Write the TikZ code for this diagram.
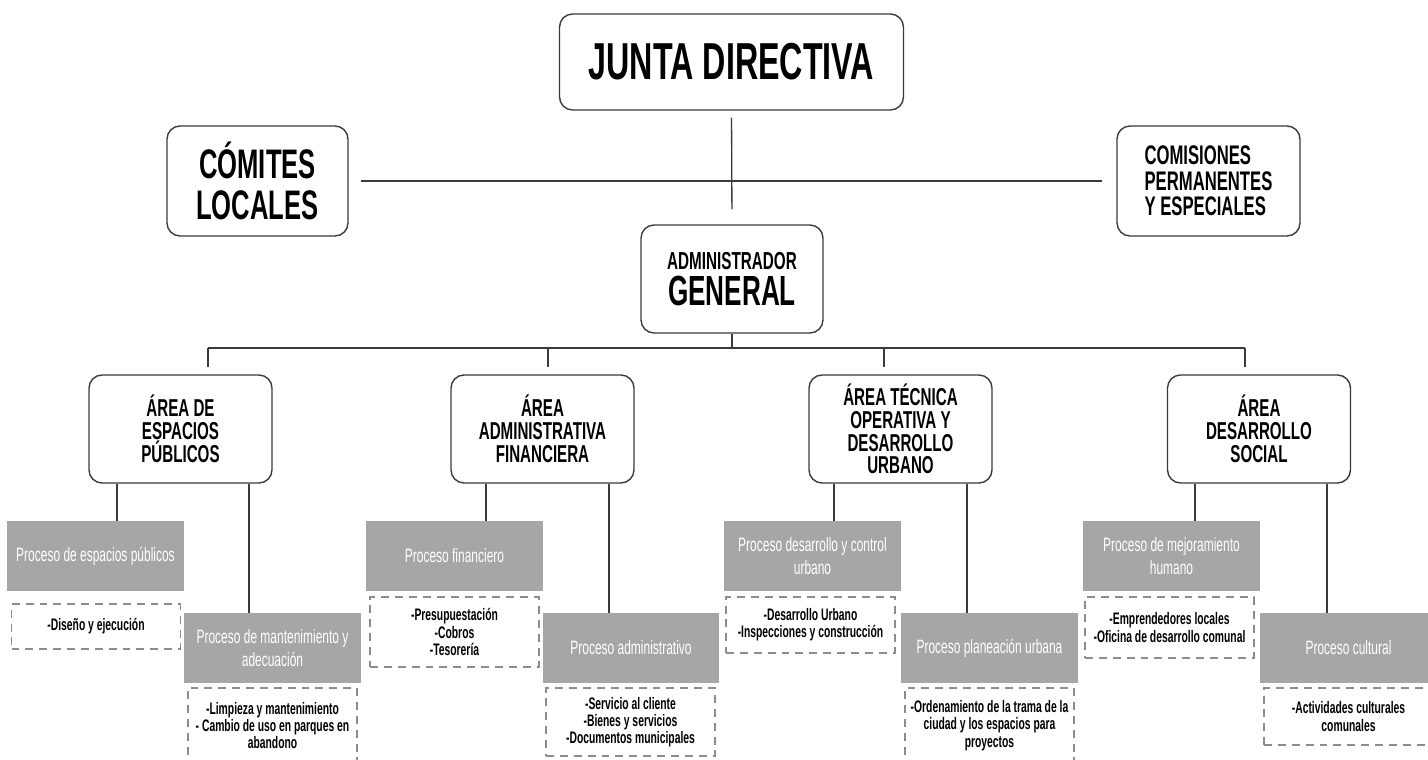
\documentclass[tikz,border=0pt]{standalone}
\usepackage{fontspec}
\setmainfont{Liberation Sans}
\newfontfamily\condfont[FakeStretch=0.62]{Liberation Sans}
\definecolor{boxline}{HTML}{3A3A3A}
\definecolor{procgray}{HTML}{A6A6A6}
\definecolor{dashgray}{HTML}{8C8C8C}
\begin{document}
\begin{tikzpicture}[
  x=0.02cm, y=-0.02cm,
  head/.style={draw=boxline, line width=0.8pt, rounded corners=0.26cm, fill=white,
    align=center, inner sep=0pt, font=\condfont\bfseries},
  area/.style={head, minimum width=3.66cm, minimum height=2.16cm,
    font=\condfont\bfseries\fontsize{13.9}{13}\selectfont},
  proc/.style={fill=procgray, text=white, align=center, inner sep=0pt,
    minimum width=3.54cm, minimum height=1.4cm,
    font=\condfont\fontsize{11}{13}\selectfont},
  item/.style={draw=dashgray, line width=0.7pt, dash pattern=on 4.5pt off 3.4pt,
    align=center, inner sep=0pt, minimum width=3.38cm,
    font=\condfont\bfseries\fontsize{9.5}{9.8}\selectfont},
  link/.style={draw=boxline, line width=0.75pt}
]
\useasboundingbox (0,0) rectangle (1428,760);

% ---- top level ----
\node[head, minimum width=6.88cm, minimum height=1.92cm,
  font=\condfont\bfseries\fontsize{29.6}{32}\selectfont] (junta) at (731.5,62) {JUNTA DIRECTIVA};
\node[head, minimum width=3.62cm, minimum height=2.2cm,
  font=\condfont\bfseries\fontsize{23.5}{23.5}\selectfont] (comites) at (257.5,181) {CÓMITES\\LOCALES};
\node[head, minimum width=3.66cm, minimum height=2.2cm, align=left,
  font=\condfont\bfseries\fontsize{15.3}{14.6}\selectfont] (comisiones) at (1208.5,181) {COMISIONES\\PERMANENTES\\Y ESPECIALES};
\node[head, minimum width=3.64cm, minimum height=2.16cm,
  font=\condfont\bfseries\fontsize{24}{20.4}\selectfont] (admin) at (732,279)
  {{\fontsize{14}{14}\selectfont ADMINISTRADOR}\\GENERAL};

\draw[link, shorten <=0.14cm, shorten >=0.3cm] (junta.south) -- (admin.north);
\draw[link, shorten <=0.24cm, shorten >=0.28cm] (comites.east) -- (comisiones.west);

% ---- areas ----
\node[area] (espacios)   at (180.5,429) {ÁREA DE\\ESPACIOS\\PÚBLICOS};
\node[area] (financiera) at (542.5,429) {ÁREA\\ADMINISTRATIVA\\FINANCIERA};
\node[area] (tecnica)    at (900.5,429) {ÁREA TÉCNICA\\OPERATIVA Y\\DESARROLLO\\URBANO};
\node[area] (social)     at (1259,429)  {ÁREA\\DESARROLLO\\SOCIAL};

\coordinate (bar) at (732,348);
\coordinate (bar-espacios)   at (208,348);
\coordinate (bar-financiera) at (548,348);
\coordinate (bar-tecnica)    at (884,348);
\coordinate (bar-social)     at (1245,348);
\draw[link] (admin.south) -- (bar);
\draw[link] (bar-espacios) -- (bar-social);
\foreach \a in {espacios, financiera, tecnica, social}
  \draw[link, shorten >=0.15cm] (bar-\a) -- (bar-\a |- \a.north);

% ---- processes ----
\node[proc] (espacios-up)   at (95.5,556)  {Proceso de espacios públicos};
\node[proc] (espacios-lo)   at (272.5,648) {Proceso de mantenimiento y\\adecuación};
\node[proc] (financiera-up) at (454.5,556) {Proceso financiero};
\node[proc] (financiera-lo) at (631,648)   {Proceso administrativo};
\node[proc] (tecnica-up)    at (812.5,556) {Proceso desarrollo y control\\urbano};
\node[proc] (tecnica-lo)    at (989.5,648) {Proceso planeación urbana};
\node[proc] (social-up)     at (1171.5,556) {Proceso de mejoramiento\\humano};
\node[proc] (social-lo)     at (1348.5,648) {Proceso cultural};

\foreach \a/\l/\r in {espacios/-1.27/1.37, financiera/-1.13/1.33, tecnica/-1.33/1.33, social/-1.28/1.36}
{
  \draw[link] ([xshift=\l cm]\a.south) -- ([xshift=\l cm]\a.south |- \a-up.north);
  \draw[link] ([xshift=\r cm]\a.south) -- ([xshift=\r cm]\a.south |- \a-lo.north);
}

% ---- task lists ----
\node[item, minimum height=0.9cm]  (espacios-up-list)   at (96,626.5)   {-Diseño y ejecución};
\node[item, minimum height=1.5cm]  (espacios-lo-list)   at (272.5,725.5) {-Limpieza y mantenimiento\\- Cambio de uso en parques en\\abandono};
\node[item, minimum height=1.4cm]  (financiera-up-list) at (454.5,632)  {-Presupuestación\\-Cobros\\-Tesorería};
\node[item, minimum height=1.36cm] (financiera-lo-list) at (630.5,722)  {-Servicio al cliente\\-Bienes y servicios\\-Documentos municipales};
\node[item, minimum height=1.12cm] (tecnica-up-list)    at (810.5,625)  {-Desarrollo Urbano\\-Inspecciones y construcción};
\node[item, minimum height=1.5cm]  (tecnica-lo-list)    at (989.5,725.5) {-Ordenamiento de la trama de la\\ciudad y los espacios para\\proyectos};
\node[item, minimum height=1.22cm] (social-up-list)     at (1169.5,627.5) {-Emprendedores locales\\-Oficina de desarrollo comunal};
\node[item, minimum height=1.14cm] (social-lo-list)     at (1348.5,716.5) {-Actividades culturales\\comunales};
\end{tikzpicture}
\end{document}
